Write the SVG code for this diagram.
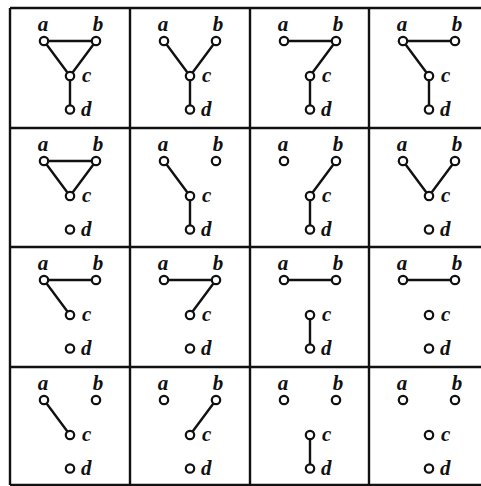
<svg xmlns="http://www.w3.org/2000/svg" width="481" height="486" viewBox="0 0 481 486">
<style>
.grid{stroke:#111;stroke-width:2.4;fill:none}
.e{stroke:#111;stroke-width:2.4;fill:none;stroke-linecap:round}
.v{stroke:#111;stroke-width:2.2;fill:#fff}
.l{font-family:"Liberation Serif",serif;font-style:italic;font-weight:bold;font-size:21px;fill:#111}
.m{text-anchor:middle}
</style>
<defs>
<g id="na"><circle class="v" cx="34" cy="33" r="4.2"/><text class="l m" x="33" y="23">a</text></g>
<g id="nb"><circle class="v" cx="86" cy="33" r="4.2"/><text class="l m" x="88" y="23">b</text></g>
<g id="nc"><circle class="v" cx="60" cy="68" r="4.2"/><text class="l" x="72" y="74">c</text></g>
<g id="nd"><circle class="v" cx="60" cy="101.5" r="4.2"/><text class="l" x="71" y="108">d</text></g>
<line id="ab" class="e" x1="34" y1="33" x2="86" y2="33"/>
<line id="ac" class="e" x1="34" y1="33" x2="60" y2="68"/>
<line id="bc" class="e" x1="86" y1="33" x2="60" y2="68"/>
<line id="cd" class="e" x1="60" y1="68" x2="60" y2="101.5"/>
</defs>
<rect width="481" height="486" fill="#fff"/>
<g id="grid" class="grid">
<line x1="10" y1="8" x2="481" y2="8"/>
<line x1="10" y1="128" x2="481" y2="128"/>
<line x1="10" y1="247" x2="481" y2="247"/>
<line x1="10" y1="367" x2="481" y2="367"/>
<line x1="10" y1="485" x2="481" y2="485"/>
<line x1="10" y1="8" x2="10" y2="485"/>
<line x1="130" y1="8" x2="130" y2="485"/>
<line x1="250" y1="8" x2="250" y2="485"/>
<line x1="369" y1="8" x2="369" y2="485"/>
</g>
<g id="connectors">
<g transform="translate(10,8)"><use href="#ab"/><use href="#ac"/><use href="#bc"/><use href="#cd"/></g>
<g transform="translate(130,8)"><use href="#ac"/><use href="#bc"/><use href="#cd"/></g>
<g transform="translate(250,8)"><use href="#ab"/><use href="#bc"/><use href="#cd"/></g>
<g transform="translate(369,8)"><use href="#ab"/><use href="#ac"/><use href="#cd"/></g>
<g transform="translate(10,128)"><use href="#ab"/><use href="#ac"/><use href="#bc"/></g>
<g transform="translate(130,128)"><use href="#ac"/><use href="#cd"/></g>
<g transform="translate(250,128)"><use href="#bc"/><use href="#cd"/></g>
<g transform="translate(369,128)"><use href="#ac"/><use href="#bc"/></g>
<g transform="translate(10,247)"><use href="#ab"/><use href="#ac"/></g>
<g transform="translate(130,247)"><use href="#ab"/><use href="#bc"/></g>
<g transform="translate(250,247)"><use href="#ab"/><use href="#cd"/></g>
<g transform="translate(369,247)"><use href="#ab"/></g>
<g transform="translate(10,367)"><use href="#ac"/></g>
<g transform="translate(130,367)"><use href="#bc"/></g>
<g transform="translate(250,367)"><use href="#cd"/></g>
</g>
<g id="g1" transform="translate(10,8)"><g id="g1-a"><use href="#na"/></g><g id="g1-b"><use href="#nb"/></g><g id="g1-c"><use href="#nc"/></g><g id="g1-d"><use href="#nd"/></g></g>
<g id="g2" transform="translate(130,8)"><g id="g2-a"><use href="#na"/></g><g id="g2-b"><use href="#nb"/></g><g id="g2-c"><use href="#nc"/></g><g id="g2-d"><use href="#nd"/></g></g>
<g id="g3" transform="translate(250,8)"><g id="g3-a"><use href="#na"/></g><g id="g3-b"><use href="#nb"/></g><g id="g3-c"><use href="#nc"/></g><g id="g3-d"><use href="#nd"/></g></g>
<g id="g4" transform="translate(369,8)"><g id="g4-a"><use href="#na"/></g><g id="g4-b"><use href="#nb"/></g><g id="g4-c"><use href="#nc"/></g><g id="g4-d"><use href="#nd"/></g></g>
<g id="g5" transform="translate(10,128)"><g id="g5-a"><use href="#na"/></g><g id="g5-b"><use href="#nb"/></g><g id="g5-c"><use href="#nc"/></g><g id="g5-d"><use href="#nd"/></g></g>
<g id="g6" transform="translate(130,128)"><g id="g6-a"><use href="#na"/></g><g id="g6-b"><use href="#nb"/></g><g id="g6-c"><use href="#nc"/></g><g id="g6-d"><use href="#nd"/></g></g>
<g id="g7" transform="translate(250,128)"><g id="g7-a"><use href="#na"/></g><g id="g7-b"><use href="#nb"/></g><g id="g7-c"><use href="#nc"/></g><g id="g7-d"><use href="#nd"/></g></g>
<g id="g8" transform="translate(369,128)"><g id="g8-a"><use href="#na"/></g><g id="g8-b"><use href="#nb"/></g><g id="g8-c"><use href="#nc"/></g><g id="g8-d"><use href="#nd"/></g></g>
<g id="g9" transform="translate(10,247)"><g id="g9-a"><use href="#na"/></g><g id="g9-b"><use href="#nb"/></g><g id="g9-c"><use href="#nc"/></g><g id="g9-d"><use href="#nd"/></g></g>
<g id="g10" transform="translate(130,247)"><g id="g10-a"><use href="#na"/></g><g id="g10-b"><use href="#nb"/></g><g id="g10-c"><use href="#nc"/></g><g id="g10-d"><use href="#nd"/></g></g>
<g id="g11" transform="translate(250,247)"><g id="g11-a"><use href="#na"/></g><g id="g11-b"><use href="#nb"/></g><g id="g11-c"><use href="#nc"/></g><g id="g11-d"><use href="#nd"/></g></g>
<g id="g12" transform="translate(369,247)"><g id="g12-a"><use href="#na"/></g><g id="g12-b"><use href="#nb"/></g><g id="g12-c"><use href="#nc"/></g><g id="g12-d"><use href="#nd"/></g></g>
<g id="g13" transform="translate(10,367)"><g id="g13-a"><use href="#na"/></g><g id="g13-b"><use href="#nb"/></g><g id="g13-c"><use href="#nc"/></g><g id="g13-d"><use href="#nd"/></g></g>
<g id="g14" transform="translate(130,367)"><g id="g14-a"><use href="#na"/></g><g id="g14-b"><use href="#nb"/></g><g id="g14-c"><use href="#nc"/></g><g id="g14-d"><use href="#nd"/></g></g>
<g id="g15" transform="translate(250,367)"><g id="g15-a"><use href="#na"/></g><g id="g15-b"><use href="#nb"/></g><g id="g15-c"><use href="#nc"/></g><g id="g15-d"><use href="#nd"/></g></g>
<g id="g16" transform="translate(369,367)"><g id="g16-a"><use href="#na"/></g><g id="g16-b"><use href="#nb"/></g><g id="g16-c"><use href="#nc"/></g><g id="g16-d"><use href="#nd"/></g></g>
</svg>
